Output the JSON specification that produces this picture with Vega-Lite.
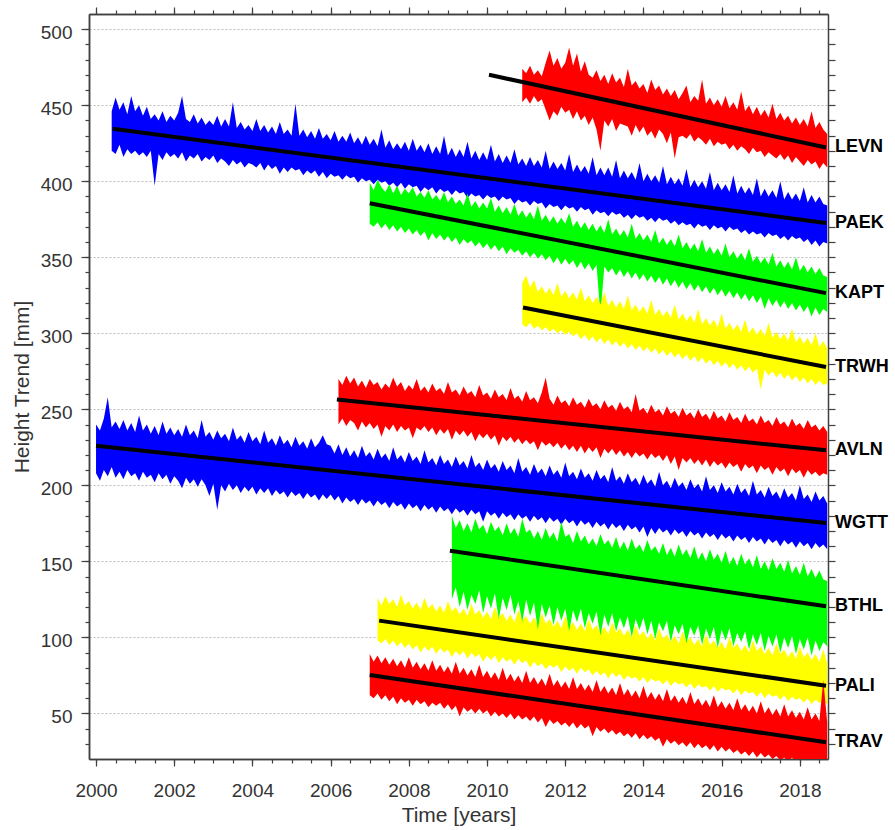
{
"$schema": "https://vega.github.io/schema/vega-lite/v6.json",
"width": 739, "height": 745,
"autosize": {"type": "none"},
"padding": {"left": 89, "top": 14, "right": 67, "bottom": 71},
"config": {"view": {"stroke": null}, "font": "Liberation Sans",
 "axis": {"domainColor": "#404040", "domainWidth": 1.5, "tickColor": "#404040", "tickWidth": 1.2, "labelFont": "Liberation Sans", "labelFontSize": 19, "labelColor": "#333333", "titleFont": "Liberation Sans", "titleFontSize": 21, "titleFontWeight": "normal", "titleColor": "#333333", "grid": false, "labelFlush": false, "labelOverlap": false}},
"resolve": {"axis": {"x": "independent", "y": "independent"}},
"datasets": {
"LEVN": [{"t":2010.9,"h":474,"l":452},{"t":2011.0,"h":471,"l":455},{"t":2011.1,"h":476,"l":451},{"t":2011.2,"h":470,"l":456},{"t":2011.3,"h":473,"l":452},{"t":2011.4,"h":469,"l":454},{"t":2011.5,"h":478,"l":447},{"t":2011.6,"h":486,"l":440},{"t":2011.7,"h":476,"l":446},{"t":2011.8,"h":481,"l":443},{"t":2011.9,"h":474,"l":449},{"t":2012.0,"h":478,"l":445},{"t":2012.1,"h":488,"l":447},{"t":2012.2,"h":476,"l":441},{"t":2012.3,"h":484,"l":446},{"t":2012.4,"h":472,"l":440},{"t":2012.5,"h":479,"l":443},{"t":2012.6,"h":470,"l":437},{"t":2012.7,"h":468,"l":442},{"t":2012.8,"h":473,"l":434},{"t":2012.9,"h":466,"l":420},{"t":2013.0,"h":470,"l":440},{"t":2013.1,"h":464,"l":436},{"t":2013.2,"h":471,"l":441},{"t":2013.3,"h":465,"l":433},{"t":2013.4,"h":468,"l":438},{"t":2013.5,"h":462,"l":437},{"t":2013.6,"h":474,"l":436},{"t":2013.7,"h":463,"l":430},{"t":2013.8,"h":466,"l":437},{"t":2013.9,"h":461,"l":432},{"t":2014.0,"h":464,"l":436},{"t":2014.1,"h":458,"l":430},{"t":2014.2,"h":467,"l":433},{"t":2014.3,"h":460,"l":428},{"t":2014.4,"h":463,"l":434},{"t":2014.5,"h":457,"l":431},{"t":2014.6,"h":461,"l":425},{"t":2014.7,"h":456,"l":432},{"t":2014.8,"h":460,"l":415},{"t":2014.9,"h":454,"l":429},{"t":2015.0,"h":458,"l":430},{"t":2015.1,"h":463,"l":428},{"t":2015.2,"h":452,"l":431},{"t":2015.3,"h":456,"l":426},{"t":2015.4,"h":453,"l":429},{"t":2015.5,"h":467,"l":427},{"t":2015.6,"h":451,"l":424},{"t":2015.7,"h":455,"l":428},{"t":2015.8,"h":450,"l":423},{"t":2015.9,"h":454,"l":426},{"t":2016.0,"h":449,"l":424},{"t":2016.1,"h":456,"l":425},{"t":2016.2,"h":448,"l":421},{"t":2016.3,"h":452,"l":424},{"t":2016.4,"h":447,"l":420},{"t":2016.5,"h":459,"l":423},{"t":2016.6,"h":446,"l":421},{"t":2016.7,"h":450,"l":418},{"t":2016.8,"h":444,"l":422},{"t":2016.9,"h":449,"l":419},{"t":2017.0,"h":443,"l":420},{"t":2017.1,"h":447,"l":416},{"t":2017.2,"h":442,"l":419},{"t":2017.3,"h":451,"l":417},{"t":2017.4,"h":441,"l":415},{"t":2017.5,"h":445,"l":418},{"t":2017.6,"h":440,"l":414},{"t":2017.7,"h":443,"l":417},{"t":2017.8,"h":438,"l":412},{"t":2017.9,"h":442,"l":416},{"t":2018.0,"h":437,"l":413},{"t":2018.1,"h":441,"l":410},{"t":2018.2,"h":436,"l":414},{"t":2018.3,"h":446,"l":411},{"t":2018.4,"h":435,"l":413},{"t":2018.5,"h":439,"l":408},{"t":2018.6,"h":434,"l":412},{"t":2018.7,"h":431,"l":409}],
"PAEK": [{"t":2000.4,"h":446,"l":420},{"t":2000.5,"h":455,"l":418},{"t":2000.6,"h":447,"l":424},{"t":2000.7,"h":452,"l":416},{"t":2000.8,"h":444,"l":421},{"t":2000.9,"h":456,"l":418},{"t":2001.0,"h":446,"l":420},{"t":2001.1,"h":450,"l":417},{"t":2001.2,"h":443,"l":419},{"t":2001.3,"h":449,"l":416},{"t":2001.4,"h":441,"l":420},{"t":2001.5,"h":444,"l":397},{"t":2001.6,"h":440,"l":418},{"t":2001.7,"h":446,"l":414},{"t":2001.8,"h":439,"l":419},{"t":2001.9,"h":443,"l":416},{"t":2002.0,"h":440,"l":418},{"t":2002.1,"h":445,"l":415},{"t":2002.2,"h":456,"l":419},{"t":2002.3,"h":441,"l":413},{"t":2002.4,"h":439,"l":417},{"t":2002.5,"h":444,"l":415},{"t":2002.6,"h":438,"l":418},{"t":2002.7,"h":442,"l":413},{"t":2002.8,"h":437,"l":416},{"t":2002.9,"h":440,"l":414},{"t":2003.0,"h":437,"l":417},{"t":2003.1,"h":443,"l":412},{"t":2003.2,"h":436,"l":415},{"t":2003.3,"h":441,"l":413},{"t":2003.4,"h":436,"l":410},{"t":2003.5,"h":452,"l":414},{"t":2003.6,"h":435,"l":411},{"t":2003.7,"h":439,"l":413},{"t":2003.8,"h":434,"l":409},{"t":2003.9,"h":437,"l":412},{"t":2004.0,"h":433,"l":411},{"t":2004.1,"h":441,"l":409},{"t":2004.2,"h":433,"l":412},{"t":2004.3,"h":437,"l":407},{"t":2004.4,"h":432,"l":411},{"t":2004.5,"h":436,"l":408},{"t":2004.6,"h":431,"l":410},{"t":2004.7,"h":439,"l":405},{"t":2004.8,"h":431,"l":409},{"t":2004.9,"h":434,"l":406},{"t":2005.0,"h":430,"l":409},{"t":2005.1,"h":451,"l":407},{"t":2005.2,"h":430,"l":408},{"t":2005.3,"h":434,"l":404},{"t":2005.4,"h":429,"l":407},{"t":2005.5,"h":433,"l":405},{"t":2005.6,"h":428,"l":407},{"t":2005.7,"h":435,"l":403},{"t":2005.8,"h":428,"l":406},{"t":2005.9,"h":431,"l":402},{"t":2006.0,"h":427,"l":405},{"t":2006.1,"h":433,"l":403},{"t":2006.2,"h":426,"l":404},{"t":2006.3,"h":430,"l":401},{"t":2006.4,"h":426,"l":404},{"t":2006.5,"h":432,"l":402},{"t":2006.6,"h":425,"l":403},{"t":2006.7,"h":429,"l":399},{"t":2006.8,"h":424,"l":402},{"t":2006.9,"h":430,"l":400},{"t":2007.0,"h":424,"l":401},{"t":2007.1,"h":428,"l":398},{"t":2007.2,"h":423,"l":401},{"t":2007.3,"h":434,"l":399},{"t":2007.4,"h":422,"l":400},{"t":2007.5,"h":427,"l":397},{"t":2007.6,"h":421,"l":399},{"t":2007.7,"h":425,"l":396},{"t":2007.8,"h":421,"l":399},{"t":2007.9,"h":426,"l":395},{"t":2008.0,"h":420,"l":398},{"t":2008.1,"h":428,"l":396},{"t":2008.2,"h":420,"l":397},{"t":2008.3,"h":424,"l":393},{"t":2008.4,"h":419,"l":396},{"t":2008.5,"h":425,"l":394},{"t":2008.6,"h":418,"l":396},{"t":2008.7,"h":423,"l":392},{"t":2008.8,"h":418,"l":395},{"t":2008.9,"h":430,"l":393},{"t":2009.0,"h":417,"l":394},{"t":2009.1,"h":422,"l":391},{"t":2009.2,"h":416,"l":394},{"t":2009.3,"h":421,"l":392},{"t":2009.4,"h":416,"l":393},{"t":2009.5,"h":426,"l":389},{"t":2009.6,"h":415,"l":392},{"t":2009.7,"h":420,"l":390},{"t":2009.8,"h":414,"l":391},{"t":2009.9,"h":419,"l":388},{"t":2010.0,"h":414,"l":391},{"t":2010.1,"h":424,"l":389},{"t":2010.2,"h":413,"l":390},{"t":2010.3,"h":418,"l":387},{"t":2010.4,"h":412,"l":390},{"t":2010.5,"h":417,"l":388},{"t":2010.6,"h":412,"l":389},{"t":2010.7,"h":421,"l":385},{"t":2010.8,"h":411,"l":388},{"t":2010.9,"h":415,"l":386},{"t":2011.0,"h":410,"l":387},{"t":2011.1,"h":416,"l":384},{"t":2011.2,"h":410,"l":387},{"t":2011.3,"h":414,"l":385},{"t":2011.4,"h":409,"l":386},{"t":2011.5,"h":420,"l":382},{"t":2011.6,"h":408,"l":385},{"t":2011.7,"h":413,"l":383},{"t":2011.8,"h":408,"l":384},{"t":2011.9,"h":412,"l":381},{"t":2012.0,"h":407,"l":384},{"t":2012.1,"h":418,"l":382},{"t":2012.2,"h":406,"l":383},{"t":2012.3,"h":411,"l":380},{"t":2012.4,"h":406,"l":383},{"t":2012.5,"h":410,"l":381},{"t":2012.6,"h":405,"l":382},{"t":2012.7,"h":416,"l":378},{"t":2012.8,"h":404,"l":381},{"t":2012.9,"h":409,"l":379},{"t":2013.0,"h":404,"l":380},{"t":2013.1,"h":409,"l":377},{"t":2013.2,"h":403,"l":380},{"t":2013.3,"h":414,"l":378},{"t":2013.4,"h":402,"l":379},{"t":2013.5,"h":407,"l":376},{"t":2013.6,"h":402,"l":378},{"t":2013.7,"h":406,"l":375},{"t":2013.8,"h":401,"l":378},{"t":2013.9,"h":412,"l":376},{"t":2014.0,"h":400,"l":377},{"t":2014.1,"h":405,"l":374},{"t":2014.2,"h":400,"l":376},{"t":2014.3,"h":404,"l":373},{"t":2014.4,"h":399,"l":376},{"t":2014.5,"h":410,"l":374},{"t":2014.6,"h":398,"l":375},{"t":2014.7,"h":403,"l":372},{"t":2014.8,"h":398,"l":374},{"t":2014.9,"h":402,"l":371},{"t":2015.0,"h":397,"l":373},{"t":2015.1,"h":408,"l":371},{"t":2015.2,"h":396,"l":372},{"t":2015.3,"h":401,"l":369},{"t":2015.4,"h":396,"l":372},{"t":2015.5,"h":400,"l":370},{"t":2015.6,"h":395,"l":371},{"t":2015.7,"h":406,"l":368},{"t":2015.8,"h":394,"l":371},{"t":2015.9,"h":399,"l":369},{"t":2016.0,"h":394,"l":370},{"t":2016.1,"h":398,"l":367},{"t":2016.2,"h":393,"l":370},{"t":2016.3,"h":404,"l":368},{"t":2016.4,"h":392,"l":369},{"t":2016.5,"h":397,"l":366},{"t":2016.6,"h":392,"l":368},{"t":2016.7,"h":396,"l":365},{"t":2016.8,"h":391,"l":367},{"t":2016.9,"h":402,"l":365},{"t":2017.0,"h":390,"l":366},{"t":2017.1,"h":395,"l":363},{"t":2017.2,"h":390,"l":366},{"t":2017.3,"h":394,"l":364},{"t":2017.4,"h":389,"l":365},{"t":2017.5,"h":400,"l":362},{"t":2017.6,"h":388,"l":364},{"t":2017.7,"h":393,"l":361},{"t":2017.8,"h":388,"l":364},{"t":2017.9,"h":392,"l":362},{"t":2018.0,"h":387,"l":363},{"t":2018.1,"h":396,"l":360},{"t":2018.2,"h":386,"l":362},{"t":2018.3,"h":391,"l":358},{"t":2018.4,"h":386,"l":361},{"t":2018.5,"h":390,"l":357},{"t":2018.6,"h":385,"l":360},{"t":2018.7,"h":384,"l":359}],
"KAPT": [{"t":2007.0,"h":399,"l":372},{"t":2007.1,"h":394,"l":370},{"t":2007.2,"h":401,"l":373},{"t":2007.3,"h":396,"l":369},{"t":2007.4,"h":393,"l":372},{"t":2007.5,"h":398,"l":368},{"t":2007.6,"h":392,"l":371},{"t":2007.7,"h":397,"l":367},{"t":2007.8,"h":391,"l":370},{"t":2007.9,"h":395,"l":366},{"t":2008.0,"h":392,"l":369},{"t":2008.1,"h":396,"l":365},{"t":2008.2,"h":390,"l":368},{"t":2008.3,"h":393,"l":364},{"t":2008.4,"h":389,"l":367},{"t":2008.5,"h":394,"l":361},{"t":2008.6,"h":388,"l":366},{"t":2008.7,"h":391,"l":362},{"t":2008.8,"h":387,"l":365},{"t":2008.9,"h":393,"l":361},{"t":2009.0,"h":386,"l":364},{"t":2009.1,"h":390,"l":360},{"t":2009.2,"h":385,"l":363},{"t":2009.3,"h":388,"l":358},{"t":2009.4,"h":384,"l":362},{"t":2009.5,"h":392,"l":359},{"t":2009.6,"h":383,"l":361},{"t":2009.7,"h":387,"l":357},{"t":2009.8,"h":382,"l":360},{"t":2009.9,"h":386,"l":356},{"t":2010.0,"h":382,"l":359},{"t":2010.1,"h":389,"l":355},{"t":2010.2,"h":380,"l":358},{"t":2010.3,"h":384,"l":354},{"t":2010.4,"h":379,"l":357},{"t":2010.5,"h":383,"l":352},{"t":2010.6,"h":378,"l":356},{"t":2010.7,"h":385,"l":353},{"t":2010.8,"h":377,"l":355},{"t":2010.9,"h":381,"l":351},{"t":2011.0,"h":376,"l":354},{"t":2011.1,"h":380,"l":350},{"t":2011.2,"h":375,"l":353},{"t":2011.3,"h":384,"l":349},{"t":2011.4,"h":374,"l":352},{"t":2011.5,"h":378,"l":348},{"t":2011.6,"h":373,"l":351},{"t":2011.7,"h":377,"l":346},{"t":2011.8,"h":372,"l":350},{"t":2011.9,"h":376,"l":345},{"t":2012.0,"h":372,"l":349},{"t":2012.1,"h":379,"l":345},{"t":2012.2,"h":370,"l":348},{"t":2012.3,"h":374,"l":343},{"t":2012.4,"h":369,"l":347},{"t":2012.5,"h":373,"l":342},{"t":2012.6,"h":368,"l":346},{"t":2012.7,"h":372,"l":341},{"t":2012.8,"h":367,"l":345},{"t":2012.9,"h":371,"l":312},{"t":2013.0,"h":366,"l":344},{"t":2013.1,"h":375,"l":340},{"t":2013.2,"h":365,"l":343},{"t":2013.3,"h":369,"l":338},{"t":2013.4,"h":364,"l":342},{"t":2013.5,"h":368,"l":337},{"t":2013.6,"h":363,"l":341},{"t":2013.7,"h":372,"l":336},{"t":2013.8,"h":362,"l":340},{"t":2013.9,"h":366,"l":335},{"t":2014.0,"h":361,"l":339},{"t":2014.1,"h":365,"l":334},{"t":2014.2,"h":360,"l":338},{"t":2014.3,"h":368,"l":333},{"t":2014.4,"h":359,"l":337},{"t":2014.5,"h":363,"l":332},{"t":2014.6,"h":358,"l":336},{"t":2014.7,"h":362,"l":331},{"t":2014.8,"h":357,"l":335},{"t":2014.9,"h":365,"l":330},{"t":2015.0,"h":356,"l":334},{"t":2015.1,"h":360,"l":329},{"t":2015.2,"h":355,"l":333},{"t":2015.3,"h":359,"l":328},{"t":2015.4,"h":354,"l":332},{"t":2015.5,"h":362,"l":327},{"t":2015.6,"h":353,"l":331},{"t":2015.7,"h":357,"l":326},{"t":2015.8,"h":352,"l":330},{"t":2015.9,"h":356,"l":325},{"t":2016.0,"h":351,"l":329},{"t":2016.1,"h":359,"l":324},{"t":2016.2,"h":350,"l":328},{"t":2016.3,"h":354,"l":323},{"t":2016.4,"h":349,"l":327},{"t":2016.5,"h":353,"l":322},{"t":2016.6,"h":348,"l":326},{"t":2016.7,"h":356,"l":321},{"t":2016.8,"h":347,"l":325},{"t":2016.9,"h":351,"l":320},{"t":2017.0,"h":346,"l":324},{"t":2017.1,"h":350,"l":316},{"t":2017.2,"h":345,"l":323},{"t":2017.3,"h":353,"l":318},{"t":2017.4,"h":344,"l":322},{"t":2017.5,"h":348,"l":317},{"t":2017.6,"h":343,"l":321},{"t":2017.7,"h":347,"l":316},{"t":2017.8,"h":342,"l":320},{"t":2017.9,"h":350,"l":315},{"t":2018.0,"h":341,"l":319},{"t":2018.1,"h":345,"l":314},{"t":2018.2,"h":340,"l":318},{"t":2018.3,"h":344,"l":311},{"t":2018.4,"h":339,"l":317},{"t":2018.5,"h":343,"l":312},{"t":2018.6,"h":338,"l":316},{"t":2018.7,"h":337,"l":314}],
"TRWH": [{"t":2010.9,"h":333,"l":306},{"t":2011.0,"h":338,"l":304},{"t":2011.1,"h":330,"l":307},{"t":2011.2,"h":335,"l":303},{"t":2011.3,"h":327,"l":305},{"t":2011.4,"h":331,"l":302},{"t":2011.5,"h":326,"l":304},{"t":2011.6,"h":330,"l":301},{"t":2011.7,"h":325,"l":303},{"t":2011.8,"h":333,"l":300},{"t":2011.9,"h":324,"l":302},{"t":2012.0,"h":328,"l":299},{"t":2012.1,"h":323,"l":301},{"t":2012.2,"h":327,"l":298},{"t":2012.3,"h":322,"l":300},{"t":2012.4,"h":330,"l":296},{"t":2012.5,"h":321,"l":299},{"t":2012.6,"h":325,"l":295},{"t":2012.7,"h":320,"l":298},{"t":2012.8,"h":324,"l":294},{"t":2012.9,"h":319,"l":297},{"t":2013.0,"h":327,"l":293},{"t":2013.1,"h":318,"l":296},{"t":2013.2,"h":322,"l":292},{"t":2013.3,"h":317,"l":295},{"t":2013.4,"h":321,"l":291},{"t":2013.5,"h":316,"l":294},{"t":2013.6,"h":325,"l":290},{"t":2013.7,"h":315,"l":293},{"t":2013.8,"h":319,"l":289},{"t":2013.9,"h":314,"l":292},{"t":2014.0,"h":318,"l":288},{"t":2014.1,"h":313,"l":291},{"t":2014.2,"h":322,"l":287},{"t":2014.3,"h":312,"l":290},{"t":2014.4,"h":316,"l":286},{"t":2014.5,"h":311,"l":289},{"t":2014.6,"h":315,"l":285},{"t":2014.7,"h":310,"l":288},{"t":2014.8,"h":319,"l":284},{"t":2014.9,"h":309,"l":287},{"t":2015.0,"h":313,"l":283},{"t":2015.1,"h":308,"l":286},{"t":2015.2,"h":312,"l":282},{"t":2015.3,"h":307,"l":285},{"t":2015.4,"h":316,"l":281},{"t":2015.5,"h":306,"l":284},{"t":2015.6,"h":310,"l":280},{"t":2015.7,"h":305,"l":283},{"t":2015.8,"h":309,"l":279},{"t":2015.9,"h":304,"l":282},{"t":2016.0,"h":313,"l":278},{"t":2016.1,"h":303,"l":281},{"t":2016.2,"h":307,"l":277},{"t":2016.3,"h":302,"l":280},{"t":2016.4,"h":306,"l":276},{"t":2016.5,"h":301,"l":279},{"t":2016.6,"h":309,"l":275},{"t":2016.7,"h":300,"l":278},{"t":2016.8,"h":304,"l":274},{"t":2016.9,"h":299,"l":277},{"t":2017.0,"h":303,"l":263},{"t":2017.1,"h":298,"l":276},{"t":2017.2,"h":307,"l":272},{"t":2017.3,"h":297,"l":275},{"t":2017.4,"h":301,"l":271},{"t":2017.5,"h":296,"l":274},{"t":2017.6,"h":300,"l":270},{"t":2017.7,"h":295,"l":273},{"t":2017.8,"h":303,"l":269},{"t":2017.9,"h":294,"l":272},{"t":2018.0,"h":298,"l":268},{"t":2018.1,"h":293,"l":271},{"t":2018.2,"h":297,"l":267},{"t":2018.3,"h":292,"l":270},{"t":2018.4,"h":300,"l":266},{"t":2018.5,"h":291,"l":269},{"t":2018.6,"h":295,"l":266},{"t":2018.7,"h":290,"l":267}],
"AVLN": [{"t":2006.2,"h":270,"l":240},{"t":2006.3,"h":266,"l":244},{"t":2006.4,"h":272,"l":239},{"t":2006.5,"h":267,"l":243},{"t":2006.6,"h":271,"l":241},{"t":2006.7,"h":265,"l":236},{"t":2006.8,"h":269,"l":242},{"t":2006.9,"h":264,"l":238},{"t":2007.0,"h":270,"l":241},{"t":2007.1,"h":266,"l":237},{"t":2007.2,"h":268,"l":240},{"t":2007.3,"h":263,"l":232},{"t":2007.4,"h":267,"l":239},{"t":2007.5,"h":264,"l":236},{"t":2007.6,"h":271,"l":240},{"t":2007.7,"h":265,"l":235},{"t":2007.8,"h":268,"l":239},{"t":2007.9,"h":262,"l":236},{"t":2008.0,"h":266,"l":238},{"t":2008.1,"h":263,"l":231},{"t":2008.2,"h":270,"l":238},{"t":2008.3,"h":262,"l":236},{"t":2008.4,"h":265,"l":239},{"t":2008.5,"h":261,"l":235},{"t":2008.6,"h":267,"l":238},{"t":2008.7,"h":262,"l":233},{"t":2008.8,"h":264,"l":237},{"t":2008.9,"h":260,"l":234},{"t":2009.0,"h":268,"l":237},{"t":2009.1,"h":261,"l":230},{"t":2009.2,"h":263,"l":236},{"t":2009.3,"h":259,"l":233},{"t":2009.4,"h":265,"l":236},{"t":2009.5,"h":260,"l":232},{"t":2009.6,"h":262,"l":235},{"t":2009.7,"h":258,"l":229},{"t":2009.8,"h":266,"l":234},{"t":2009.9,"h":259,"l":231},{"t":2010.0,"h":261,"l":234},{"t":2010.1,"h":257,"l":230},{"t":2010.2,"h":263,"l":233},{"t":2010.3,"h":258,"l":226},{"t":2010.4,"h":260,"l":232},{"t":2010.5,"h":256,"l":229},{"t":2010.6,"h":264,"l":232},{"t":2010.7,"h":257,"l":228},{"t":2010.8,"h":259,"l":231},{"t":2010.9,"h":255,"l":227},{"t":2011.0,"h":262,"l":230},{"t":2011.1,"h":256,"l":227},{"t":2011.2,"h":258,"l":229},{"t":2011.3,"h":254,"l":223},{"t":2011.4,"h":261,"l":229},{"t":2011.5,"h":271,"l":226},{"t":2011.6,"h":257,"l":228},{"t":2011.7,"h":253,"l":225},{"t":2011.8,"h":259,"l":228},{"t":2011.9,"h":254,"l":224},{"t":2012.0,"h":256,"l":227},{"t":2012.1,"h":252,"l":223},{"t":2012.2,"h":258,"l":226},{"t":2012.3,"h":253,"l":222},{"t":2012.4,"h":255,"l":226},{"t":2012.5,"h":251,"l":221},{"t":2012.6,"h":257,"l":225},{"t":2012.7,"h":252,"l":222},{"t":2012.8,"h":254,"l":225},{"t":2012.9,"h":250,"l":218},{"t":2013.0,"h":256,"l":224},{"t":2013.1,"h":251,"l":221},{"t":2013.2,"h":253,"l":224},{"t":2013.3,"h":249,"l":220},{"t":2013.4,"h":255,"l":223},{"t":2013.5,"h":250,"l":219},{"t":2013.6,"h":252,"l":222},{"t":2013.7,"h":248,"l":218},{"t":2013.8,"h":260,"l":222},{"t":2013.9,"h":249,"l":219},{"t":2014.0,"h":251,"l":221},{"t":2014.1,"h":247,"l":217},{"t":2014.2,"h":253,"l":221},{"t":2014.3,"h":248,"l":218},{"t":2014.4,"h":250,"l":220},{"t":2014.5,"h":246,"l":216},{"t":2014.6,"h":252,"l":220},{"t":2014.7,"h":247,"l":214},{"t":2014.8,"h":249,"l":219},{"t":2014.9,"h":245,"l":210},{"t":2015.0,"h":251,"l":218},{"t":2015.1,"h":246,"l":215},{"t":2015.2,"h":248,"l":218},{"t":2015.3,"h":244,"l":214},{"t":2015.4,"h":250,"l":217},{"t":2015.5,"h":245,"l":213},{"t":2015.6,"h":247,"l":217},{"t":2015.7,"h":243,"l":212},{"t":2015.8,"h":249,"l":216},{"t":2015.9,"h":244,"l":213},{"t":2016.0,"h":246,"l":215},{"t":2016.1,"h":242,"l":211},{"t":2016.2,"h":248,"l":215},{"t":2016.3,"h":243,"l":212},{"t":2016.4,"h":245,"l":214},{"t":2016.5,"h":241,"l":209},{"t":2016.6,"h":247,"l":214},{"t":2016.7,"h":242,"l":211},{"t":2016.8,"h":244,"l":213},{"t":2016.9,"h":240,"l":208},{"t":2017.0,"h":246,"l":213},{"t":2017.1,"h":241,"l":210},{"t":2017.2,"h":243,"l":212},{"t":2017.3,"h":239,"l":207},{"t":2017.4,"h":245,"l":212},{"t":2017.5,"h":240,"l":209},{"t":2017.6,"h":242,"l":211},{"t":2017.7,"h":238,"l":206},{"t":2017.8,"h":244,"l":211},{"t":2017.9,"h":239,"l":208},{"t":2018.0,"h":241,"l":210},{"t":2018.1,"h":237,"l":205},{"t":2018.2,"h":243,"l":210},{"t":2018.3,"h":238,"l":207},{"t":2018.4,"h":240,"l":209},{"t":2018.5,"h":236,"l":206},{"t":2018.6,"h":239,"l":208},{"t":2018.7,"h":235,"l":207}],
"WGTT": [{"t":2000.0,"h":240,"l":208},{"t":2000.1,"h":236,"l":203},{"t":2000.2,"h":244,"l":210},{"t":2000.3,"h":258,"l":206},{"t":2000.4,"h":238,"l":212},{"t":2000.5,"h":242,"l":205},{"t":2000.6,"h":237,"l":209},{"t":2000.7,"h":243,"l":204},{"t":2000.8,"h":236,"l":210},{"t":2000.9,"h":241,"l":206},{"t":2001.0,"h":235,"l":208},{"t":2001.1,"h":246,"l":203},{"t":2001.2,"h":236,"l":209},{"t":2001.3,"h":240,"l":205},{"t":2001.4,"h":234,"l":207},{"t":2001.5,"h":239,"l":202},{"t":2001.6,"h":233,"l":208},{"t":2001.7,"h":242,"l":204},{"t":2001.8,"h":234,"l":207},{"t":2001.9,"h":238,"l":201},{"t":2002.0,"h":233,"l":206},{"t":2002.1,"h":237,"l":203},{"t":2002.2,"h":232,"l":198},{"t":2002.3,"h":240,"l":205},{"t":2002.4,"h":233,"l":201},{"t":2002.5,"h":236,"l":204},{"t":2002.6,"h":231,"l":199},{"t":2002.7,"h":243,"l":204},{"t":2002.8,"h":232,"l":200},{"t":2002.9,"h":235,"l":193},{"t":2003.0,"h":230,"l":201},{"t":2003.1,"h":236,"l":184},{"t":2003.2,"h":231,"l":200},{"t":2003.3,"h":234,"l":196},{"t":2003.4,"h":229,"l":201},{"t":2003.5,"h":238,"l":197},{"t":2003.6,"h":230,"l":200},{"t":2003.7,"h":233,"l":195},{"t":2003.8,"h":228,"l":199},{"t":2003.9,"h":235,"l":196},{"t":2004.0,"h":229,"l":199},{"t":2004.1,"h":232,"l":194},{"t":2004.2,"h":227,"l":198},{"t":2004.3,"h":236,"l":195},{"t":2004.4,"h":228,"l":198},{"t":2004.5,"h":231,"l":193},{"t":2004.6,"h":226,"l":197},{"t":2004.7,"h":233,"l":194},{"t":2004.8,"h":227,"l":196},{"t":2004.9,"h":230,"l":192},{"t":2005.0,"h":225,"l":196},{"t":2005.1,"h":232,"l":193},{"t":2005.2,"h":226,"l":195},{"t":2005.3,"h":229,"l":191},{"t":2005.4,"h":224,"l":195},{"t":2005.5,"h":231,"l":192},{"t":2005.6,"h":225,"l":194},{"t":2005.7,"h":228,"l":190},{"t":2005.8,"h":233,"l":194},{"t":2005.9,"h":227,"l":191},{"t":2006.0,"h":226,"l":194},{"t":2006.1,"h":221,"l":190},{"t":2006.2,"h":227,"l":193},{"t":2006.3,"h":220,"l":188},{"t":2006.4,"h":225,"l":192},{"t":2006.5,"h":219,"l":189},{"t":2006.6,"h":223,"l":191},{"t":2006.7,"h":218,"l":187},{"t":2006.8,"h":226,"l":191},{"t":2006.9,"h":219,"l":188},{"t":2007.0,"h":222,"l":190},{"t":2007.1,"h":217,"l":186},{"t":2007.2,"h":224,"l":190},{"t":2007.3,"h":218,"l":187},{"t":2007.4,"h":221,"l":189},{"t":2007.5,"h":216,"l":185},{"t":2007.6,"h":225,"l":189},{"t":2007.7,"h":217,"l":186},{"t":2007.8,"h":220,"l":188},{"t":2007.9,"h":215,"l":184},{"t":2008.0,"h":222,"l":188},{"t":2008.1,"h":216,"l":185},{"t":2008.2,"h":219,"l":187},{"t":2008.3,"h":214,"l":183},{"t":2008.4,"h":223,"l":187},{"t":2008.5,"h":215,"l":184},{"t":2008.6,"h":218,"l":186},{"t":2008.7,"h":213,"l":182},{"t":2008.8,"h":220,"l":186},{"t":2008.9,"h":214,"l":183},{"t":2009.0,"h":217,"l":185},{"t":2009.1,"h":212,"l":181},{"t":2009.2,"h":219,"l":185},{"t":2009.3,"h":213,"l":182},{"t":2009.4,"h":216,"l":184},{"t":2009.5,"h":211,"l":180},{"t":2009.6,"h":220,"l":184},{"t":2009.7,"h":212,"l":181},{"t":2009.8,"h":215,"l":183},{"t":2009.9,"h":210,"l":176},{"t":2010.0,"h":217,"l":183},{"t":2010.1,"h":211,"l":180},{"t":2010.2,"h":214,"l":182},{"t":2010.3,"h":209,"l":178},{"t":2010.4,"h":216,"l":182},{"t":2010.5,"h":210,"l":179},{"t":2010.6,"h":213,"l":181},{"t":2010.7,"h":208,"l":177},{"t":2010.8,"h":218,"l":181},{"t":2010.9,"h":209,"l":178},{"t":2011.0,"h":212,"l":180},{"t":2011.1,"h":207,"l":176},{"t":2011.2,"h":214,"l":180},{"t":2011.3,"h":208,"l":177},{"t":2011.4,"h":211,"l":179},{"t":2011.5,"h":206,"l":175},{"t":2011.6,"h":213,"l":179},{"t":2011.7,"h":207,"l":176},{"t":2011.8,"h":210,"l":178},{"t":2011.9,"h":205,"l":174},{"t":2012.0,"h":215,"l":178},{"t":2012.1,"h":206,"l":175},{"t":2012.2,"h":209,"l":177},{"t":2012.3,"h":204,"l":173},{"t":2012.4,"h":211,"l":177},{"t":2012.5,"h":205,"l":174},{"t":2012.6,"h":208,"l":176},{"t":2012.7,"h":203,"l":172},{"t":2012.8,"h":210,"l":176},{"t":2012.9,"h":204,"l":173},{"t":2013.0,"h":207,"l":175},{"t":2013.1,"h":202,"l":171},{"t":2013.2,"h":212,"l":175},{"t":2013.3,"h":203,"l":172},{"t":2013.4,"h":206,"l":174},{"t":2013.5,"h":201,"l":170},{"t":2013.6,"h":208,"l":174},{"t":2013.7,"h":202,"l":171},{"t":2013.8,"h":205,"l":173},{"t":2013.9,"h":200,"l":169},{"t":2014.0,"h":207,"l":173},{"t":2014.1,"h":201,"l":166},{"t":2014.2,"h":204,"l":172},{"t":2014.3,"h":199,"l":168},{"t":2014.4,"h":209,"l":172},{"t":2014.5,"h":200,"l":169},{"t":2014.6,"h":203,"l":171},{"t":2014.7,"h":198,"l":167},{"t":2014.8,"h":205,"l":171},{"t":2014.9,"h":199,"l":168},{"t":2015.0,"h":202,"l":170},{"t":2015.1,"h":197,"l":166},{"t":2015.2,"h":204,"l":170},{"t":2015.3,"h":198,"l":167},{"t":2015.4,"h":201,"l":169},{"t":2015.5,"h":196,"l":165},{"t":2015.6,"h":206,"l":169},{"t":2015.7,"h":197,"l":166},{"t":2015.8,"h":200,"l":168},{"t":2015.9,"h":195,"l":164},{"t":2016.0,"h":202,"l":168},{"t":2016.1,"h":196,"l":165},{"t":2016.2,"h":199,"l":167},{"t":2016.3,"h":194,"l":163},{"t":2016.4,"h":201,"l":167},{"t":2016.5,"h":195,"l":164},{"t":2016.6,"h":198,"l":166},{"t":2016.7,"h":193,"l":162},{"t":2016.8,"h":203,"l":166},{"t":2016.9,"h":194,"l":163},{"t":2017.0,"h":197,"l":165},{"t":2017.1,"h":192,"l":161},{"t":2017.2,"h":199,"l":165},{"t":2017.3,"h":193,"l":162},{"t":2017.4,"h":196,"l":164},{"t":2017.5,"h":191,"l":160},{"t":2017.6,"h":198,"l":164},{"t":2017.7,"h":192,"l":161},{"t":2017.8,"h":195,"l":163},{"t":2017.9,"h":190,"l":159},{"t":2018.0,"h":200,"l":163},{"t":2018.1,"h":191,"l":160},{"t":2018.2,"h":194,"l":162},{"t":2018.3,"h":189,"l":158},{"t":2018.4,"h":196,"l":162},{"t":2018.5,"h":190,"l":159},{"t":2018.6,"h":193,"l":161},{"t":2018.7,"h":188,"l":158}],
"BTHL": [{"t":2009.1,"h":180,"l":125},{"t":2009.2,"h":172,"l":133},{"t":2009.3,"h":177,"l":120},{"t":2009.4,"h":170,"l":130},{"t":2009.5,"h":175,"l":118},{"t":2009.6,"h":169,"l":128},{"t":2009.7,"h":178,"l":122},{"t":2009.8,"h":171,"l":131},{"t":2009.9,"h":174,"l":116},{"t":2010.0,"h":168,"l":127},{"t":2010.1,"h":176,"l":119},{"t":2010.2,"h":170,"l":129},{"t":2010.3,"h":173,"l":112},{"t":2010.4,"h":167,"l":126},{"t":2010.5,"h":175,"l":118},{"t":2010.6,"h":168,"l":128},{"t":2010.7,"h":172,"l":115},{"t":2010.8,"h":166,"l":124},{"t":2010.9,"h":178,"l":110},{"t":2011.0,"h":169,"l":125},{"t":2011.1,"h":171,"l":114},{"t":2011.2,"h":165,"l":123},{"t":2011.3,"h":170,"l":105},{"t":2011.4,"h":164,"l":122},{"t":2011.5,"h":172,"l":113},{"t":2011.6,"h":165,"l":121},{"t":2011.7,"h":169,"l":108},{"t":2011.8,"h":163,"l":120},{"t":2011.9,"h":176,"l":111},{"t":2012.0,"h":166,"l":119},{"t":2012.1,"h":168,"l":104},{"t":2012.2,"h":162,"l":118},{"t":2012.3,"h":170,"l":110},{"t":2012.4,"h":163,"l":119},{"t":2012.5,"h":167,"l":106},{"t":2012.6,"h":161,"l":116},{"t":2012.7,"h":165,"l":109},{"t":2012.8,"h":160,"l":117},{"t":2012.9,"h":168,"l":101},{"t":2013.0,"h":161,"l":115},{"t":2013.1,"h":164,"l":107},{"t":2013.2,"h":159,"l":116},{"t":2013.3,"h":166,"l":104},{"t":2013.4,"h":158,"l":113},{"t":2013.5,"h":163,"l":106},{"t":2013.6,"h":157,"l":114},{"t":2013.7,"h":165,"l":100},{"t":2013.8,"h":158,"l":112},{"t":2013.9,"h":161,"l":105},{"t":2014.0,"h":156,"l":113},{"t":2014.1,"h":164,"l":102},{"t":2014.2,"h":157,"l":111},{"t":2014.3,"h":160,"l":99},{"t":2014.4,"h":155,"l":110},{"t":2014.5,"h":162,"l":104},{"t":2014.6,"h":154,"l":111},{"t":2014.7,"h":159,"l":97},{"t":2014.8,"h":153,"l":108},{"t":2014.9,"h":161,"l":102},{"t":2015.0,"h":154,"l":109},{"t":2015.1,"h":158,"l":96},{"t":2015.2,"h":152,"l":107},{"t":2015.3,"h":160,"l":101},{"t":2015.4,"h":151,"l":108},{"t":2015.5,"h":156,"l":95},{"t":2015.6,"h":150,"l":106},{"t":2015.7,"h":158,"l":99},{"t":2015.8,"h":151,"l":107},{"t":2015.9,"h":155,"l":93},{"t":2016.0,"h":149,"l":105},{"t":2016.1,"h":157,"l":98},{"t":2016.2,"h":148,"l":106},{"t":2016.3,"h":153,"l":94},{"t":2016.4,"h":147,"l":103},{"t":2016.5,"h":155,"l":97},{"t":2016.6,"h":148,"l":104},{"t":2016.7,"h":152,"l":92},{"t":2016.8,"h":146,"l":102},{"t":2016.9,"h":154,"l":95},{"t":2017.0,"h":145,"l":103},{"t":2017.1,"h":150,"l":91},{"t":2017.2,"h":144,"l":101},{"t":2017.3,"h":152,"l":94},{"t":2017.4,"h":145,"l":102},{"t":2017.5,"h":149,"l":90},{"t":2017.6,"h":143,"l":100},{"t":2017.7,"h":151,"l":93},{"t":2017.8,"h":142,"l":101},{"t":2017.9,"h":147,"l":89},{"t":2018.0,"h":141,"l":99},{"t":2018.1,"h":149,"l":92},{"t":2018.2,"h":140,"l":100},{"t":2018.3,"h":145,"l":88},{"t":2018.4,"h":139,"l":98},{"t":2018.5,"h":144,"l":91},{"t":2018.6,"h":138,"l":97},{"t":2018.7,"h":137,"l":94}],
"PALI": [{"t":2007.2,"h":126,"l":98},{"t":2007.3,"h":121,"l":96},{"t":2007.4,"h":127,"l":99},{"t":2007.5,"h":122,"l":95},{"t":2007.6,"h":125,"l":98},{"t":2007.7,"h":120,"l":94},{"t":2007.8,"h":128,"l":97},{"t":2007.9,"h":121,"l":93},{"t":2008.0,"h":124,"l":96},{"t":2008.1,"h":119,"l":92},{"t":2008.2,"h":123,"l":95},{"t":2008.3,"h":118,"l":90},{"t":2008.4,"h":126,"l":94},{"t":2008.5,"h":119,"l":91},{"t":2008.6,"h":122,"l":94},{"t":2008.7,"h":117,"l":89},{"t":2008.8,"h":121,"l":93},{"t":2008.9,"h":116,"l":90},{"t":2009.0,"h":124,"l":92},{"t":2009.1,"h":117,"l":87},{"t":2009.2,"h":120,"l":91},{"t":2009.3,"h":115,"l":88},{"t":2009.4,"h":119,"l":91},{"t":2009.5,"h":114,"l":86},{"t":2009.6,"h":122,"l":90},{"t":2009.7,"h":115,"l":87},{"t":2009.8,"h":118,"l":89},{"t":2009.9,"h":113,"l":84},{"t":2010.0,"h":117,"l":88},{"t":2010.1,"h":112,"l":85},{"t":2010.2,"h":120,"l":88},{"t":2010.3,"h":113,"l":83},{"t":2010.4,"h":116,"l":87},{"t":2010.5,"h":111,"l":84},{"t":2010.6,"h":115,"l":86},{"t":2010.7,"h":110,"l":82},{"t":2010.8,"h":118,"l":86},{"t":2010.9,"h":111,"l":83},{"t":2011.0,"h":114,"l":85},{"t":2011.1,"h":109,"l":80},{"t":2011.2,"h":113,"l":84},{"t":2011.3,"h":108,"l":81},{"t":2011.4,"h":116,"l":83},{"t":2011.5,"h":109,"l":79},{"t":2011.6,"h":112,"l":82},{"t":2011.7,"h":107,"l":80},{"t":2011.8,"h":111,"l":82},{"t":2011.9,"h":106,"l":77},{"t":2012.0,"h":114,"l":81},{"t":2012.1,"h":107,"l":78},{"t":2012.2,"h":110,"l":80},{"t":2012.3,"h":105,"l":76},{"t":2012.4,"h":109,"l":80},{"t":2012.5,"h":104,"l":77},{"t":2012.6,"h":112,"l":79},{"t":2012.7,"h":105,"l":75},{"t":2012.8,"h":108,"l":78},{"t":2012.9,"h":103,"l":75},{"t":2013.0,"h":107,"l":77},{"t":2013.1,"h":102,"l":73},{"t":2013.2,"h":110,"l":77},{"t":2013.3,"h":103,"l":74},{"t":2013.4,"h":106,"l":76},{"t":2013.5,"h":101,"l":72},{"t":2013.6,"h":105,"l":75},{"t":2013.7,"h":100,"l":73},{"t":2013.8,"h":108,"l":74},{"t":2013.9,"h":101,"l":71},{"t":2014.0,"h":104,"l":74},{"t":2014.1,"h":99,"l":70},{"t":2014.2,"h":103,"l":73},{"t":2014.3,"h":98,"l":71},{"t":2014.4,"h":106,"l":72},{"t":2014.5,"h":99,"l":69},{"t":2014.6,"h":102,"l":72},{"t":2014.7,"h":97,"l":68},{"t":2014.8,"h":101,"l":71},{"t":2014.9,"h":96,"l":69},{"t":2015.0,"h":104,"l":70},{"t":2015.1,"h":97,"l":67},{"t":2015.2,"h":100,"l":70},{"t":2015.3,"h":95,"l":66},{"t":2015.4,"h":99,"l":69},{"t":2015.5,"h":94,"l":67},{"t":2015.6,"h":102,"l":68},{"t":2015.7,"h":95,"l":65},{"t":2015.8,"h":98,"l":68},{"t":2015.9,"h":93,"l":64},{"t":2016.0,"h":97,"l":67},{"t":2016.1,"h":92,"l":65},{"t":2016.2,"h":100,"l":66},{"t":2016.3,"h":93,"l":63},{"t":2016.4,"h":96,"l":66},{"t":2016.5,"h":91,"l":62},{"t":2016.6,"h":95,"l":65},{"t":2016.7,"h":90,"l":63},{"t":2016.8,"h":98,"l":64},{"t":2016.9,"h":91,"l":61},{"t":2017.0,"h":94,"l":64},{"t":2017.1,"h":89,"l":60},{"t":2017.2,"h":93,"l":63},{"t":2017.3,"h":88,"l":61},{"t":2017.4,"h":96,"l":62},{"t":2017.5,"h":89,"l":59},{"t":2017.6,"h":92,"l":62},{"t":2017.7,"h":87,"l":58},{"t":2017.8,"h":91,"l":61},{"t":2017.9,"h":86,"l":59},{"t":2018.0,"h":94,"l":60},{"t":2018.1,"h":87,"l":57},{"t":2018.2,"h":90,"l":60},{"t":2018.3,"h":85,"l":56},{"t":2018.4,"h":89,"l":59},{"t":2018.5,"h":84,"l":57},{"t":2018.6,"h":92,"l":58},{"t":2018.7,"h":83,"l":56}],
"TRAV": [{"t":2007.0,"h":89,"l":62},{"t":2007.1,"h":84,"l":60},{"t":2007.2,"h":88,"l":63},{"t":2007.3,"h":83,"l":59},{"t":2007.4,"h":87,"l":62},{"t":2007.5,"h":82,"l":58},{"t":2007.6,"h":86,"l":61},{"t":2007.7,"h":81,"l":56},{"t":2007.8,"h":85,"l":60},{"t":2007.9,"h":80,"l":57},{"t":2008.0,"h":87,"l":59},{"t":2008.1,"h":80,"l":55},{"t":2008.2,"h":84,"l":59},{"t":2008.3,"h":79,"l":56},{"t":2008.4,"h":83,"l":58},{"t":2008.5,"h":78,"l":54},{"t":2008.6,"h":85,"l":57},{"t":2008.7,"h":78,"l":55},{"t":2008.8,"h":82,"l":57},{"t":2008.9,"h":77,"l":53},{"t":2009.0,"h":81,"l":56},{"t":2009.1,"h":76,"l":52},{"t":2009.2,"h":84,"l":55},{"t":2009.3,"h":76,"l":48},{"t":2009.4,"h":80,"l":54},{"t":2009.5,"h":75,"l":51},{"t":2009.6,"h":79,"l":53},{"t":2009.7,"h":74,"l":50},{"t":2009.8,"h":82,"l":53},{"t":2009.9,"h":74,"l":50},{"t":2010.0,"h":78,"l":52},{"t":2010.1,"h":73,"l":48},{"t":2010.2,"h":77,"l":51},{"t":2010.3,"h":72,"l":48},{"t":2010.4,"h":80,"l":50},{"t":2010.5,"h":72,"l":47},{"t":2010.6,"h":76,"l":50},{"t":2010.7,"h":71,"l":46},{"t":2010.8,"h":75,"l":49},{"t":2010.9,"h":70,"l":46},{"t":2011.0,"h":78,"l":48},{"t":2011.1,"h":70,"l":45},{"t":2011.2,"h":74,"l":48},{"t":2011.3,"h":69,"l":44},{"t":2011.4,"h":73,"l":47},{"t":2011.5,"h":68,"l":41},{"t":2011.6,"h":76,"l":46},{"t":2011.7,"h":68,"l":43},{"t":2011.8,"h":72,"l":45},{"t":2011.9,"h":67,"l":42},{"t":2012.0,"h":71,"l":44},{"t":2012.1,"h":66,"l":41},{"t":2012.2,"h":74,"l":44},{"t":2012.3,"h":66,"l":40},{"t":2012.4,"h":70,"l":43},{"t":2012.5,"h":65,"l":40},{"t":2012.6,"h":69,"l":42},{"t":2012.7,"h":64,"l":35},{"t":2012.8,"h":72,"l":41},{"t":2012.9,"h":64,"l":38},{"t":2013.0,"h":68,"l":40},{"t":2013.1,"h":63,"l":37},{"t":2013.2,"h":67,"l":39},{"t":2013.3,"h":62,"l":36},{"t":2013.4,"h":70,"l":38},{"t":2013.5,"h":62,"l":35},{"t":2013.6,"h":66,"l":37},{"t":2013.7,"h":61,"l":34},{"t":2013.8,"h":65,"l":37},{"t":2013.9,"h":60,"l":33},{"t":2014.0,"h":68,"l":36},{"t":2014.1,"h":60,"l":33},{"t":2014.2,"h":64,"l":35},{"t":2014.3,"h":59,"l":32},{"t":2014.4,"h":63,"l":34},{"t":2014.5,"h":58,"l":28},{"t":2014.6,"h":66,"l":33},{"t":2014.7,"h":58,"l":30},{"t":2014.8,"h":62,"l":32},{"t":2014.9,"h":57,"l":29},{"t":2015.0,"h":61,"l":31},{"t":2015.1,"h":56,"l":28},{"t":2015.2,"h":64,"l":31},{"t":2015.3,"h":56,"l":27},{"t":2015.4,"h":60,"l":30},{"t":2015.5,"h":55,"l":27},{"t":2015.6,"h":59,"l":29},{"t":2015.7,"h":54,"l":26},{"t":2015.8,"h":62,"l":29},{"t":2015.9,"h":54,"l":25},{"t":2016.0,"h":58,"l":28},{"t":2016.1,"h":53,"l":25},{"t":2016.2,"h":57,"l":27},{"t":2016.3,"h":52,"l":24},{"t":2016.4,"h":60,"l":26},{"t":2016.5,"h":52,"l":23},{"t":2016.6,"h":56,"l":25},{"t":2016.7,"h":51,"l":22},{"t":2016.8,"h":55,"l":25},{"t":2016.9,"h":50,"l":21},{"t":2017.0,"h":58,"l":24},{"t":2017.1,"h":50,"l":21},{"t":2017.2,"h":54,"l":23},{"t":2017.3,"h":49,"l":20},{"t":2017.4,"h":53,"l":22},{"t":2017.5,"h":48,"l":19},{"t":2017.6,"h":56,"l":21},{"t":2017.7,"h":48,"l":18},{"t":2017.8,"h":52,"l":21},{"t":2017.9,"h":47,"l":17},{"t":2018.0,"h":51,"l":20},{"t":2018.1,"h":46,"l":17},{"t":2018.2,"h":54,"l":19},{"t":2018.3,"h":46,"l":16},{"t":2018.4,"h":50,"l":18},{"t":2018.5,"h":45,"l":15},{"t":2018.6,"h":72,"l":17},{"t":2018.7,"h":44,"l":14}],
"trend": [{"s":"LEVN","t":2010.05,"v":470},{"s":"LEVN","t":2018.67,"v":422.2},{"s":"PAEK","t":2000.43,"v":434.5},{"s":"PAEK","t":2018.67,"v":372.5},{"s":"KAPT","t":2007.0,"v":385.5},{"s":"KAPT","t":2018.67,"v":326.4},{"s":"TRWH","t":2010.92,"v":317},{"s":"TRWH","t":2018.67,"v":277.8},{"s":"AVLN","t":2006.16,"v":256.5},{"s":"AVLN","t":2018.67,"v":223},{"s":"WGTT","t":2000.0,"v":226},{"s":"WGTT","t":2018.67,"v":175.2},{"s":"BTHL","t":2009.05,"v":157},{"s":"BTHL","t":2018.67,"v":120.4},{"s":"PALI","t":2007.24,"v":111},{"s":"PALI","t":2018.67,"v":68.2},{"s":"TRAV","t":2007.0,"v":75.3},{"s":"TRAV","t":2018.67,"v":31}]
},
"layer": [
{"data": {"name": "LEVN"}, "mark": {"type": "area", "color": "#ff0000", "clip": true},
 "encoding": {
  "x": {"field": "t", "type": "quantitative", "scale": {"domain": [1999.82, 2018.72], "nice": false, "zero": false},
   "axis": {"orient": "bottom", "values": [2000,2002,2004,2006,2008,2010,2012,2014,2016,2018], "format": "d", "tickSize": 7, "labelPadding": 15, "title": "Time [years]", "titlePadding": 4}},
  "y": {"field": "l", "type": "quantitative", "scale": {"domain": [20, 510], "nice": false, "zero": false},
   "axis": {"orient": "left", "values": [50,100,150,200,250,300,350,400,450,500], "tickSize": 8, "labelPadding": 9, "labelOffset": 3, "title": "Height Trend [mm]", "titlePadding": 8, "grid": true, "gridDash": [2,2], "gridColor": "#bdbdbd", "gridWidth": 1.2}},
  "y2": {"field": "h"}}},
{"data": {"name": "PAEK"}, "mark": {"type": "area", "color": "#0000ff", "clip": true},
 "encoding": {
  "x": {"field": "t", "type": "quantitative", "scale": {"domain": [1999.82, 2018.72], "nice": false, "zero": false},
   "axis": {"orient": "bottom", "values": [2000,2000.5,2001,2001.5,2002,2002.5,2003,2003.5,2004,2004.5,2005,2005.5,2006,2006.5,2007,2007.5,2008,2008.5,2009,2009.5,2010,2010.5,2011,2011.5,2012,2012.5,2013,2013.5,2014,2014.5,2015,2015.5,2016,2016.5,2017,2017.5,2018,2018.5], "tickSize": 4, "labels": false, "title": null}},
  "y": {"field": "l", "type": "quantitative", "scale": {"domain": [20, 510], "nice": false, "zero": false},
   "axis": {"orient": "left", "values": [30,40,50,60,70,80,90,100,110,120,130,140,150,160,170,180,190,200,210,220,230,240,250,260,270,280,290,300,310,320,330,340,350,360,370,380,390,400,410,420,430,440,450,460,470,480,490,500], "tickSize": 4, "labels": false, "title": null}},
  "y2": {"field": "h"}}},
{"data": {"name": "KAPT"}, "mark": {"type": "area", "color": "#00ff00", "clip": true},
 "encoding": {
  "x": {"field": "t", "type": "quantitative", "scale": {"domain": [1999.82, 2018.72], "nice": false, "zero": false},
   "axis": {"orient": "top", "values": [2000,2002,2004,2006,2008,2010,2012,2014,2016,2018], "tickSize": 7, "labels": false, "title": null}},
  "y": {"field": "l", "type": "quantitative", "scale": {"domain": [20, 510], "nice": false, "zero": false},
   "axis": {"orient": "right", "values": [30,40,50,60,70,80,90,100,110,120,130,140,150,160,170,180,190,200,210,220,230,240,250,260,270,280,290,300,310,320,330,340,350,360,370,380,390,400,410,420,430,440,450,460,470,480,490,500], "tickSize": 7, "labels": false, "title": null}},
  "y2": {"field": "h"}}},
{"data": {"name": "TRWH"}, "mark": {"type": "area", "color": "#ffff00", "clip": true},
 "encoding": {
  "x": {"field": "t", "type": "quantitative", "scale": {"domain": [1999.82, 2018.72], "nice": false, "zero": false},
   "axis": {"orient": "top", "values": [2000,2000.5,2001,2001.5,2002,2002.5,2003,2003.5,2004,2004.5,2005,2005.5,2006,2006.5,2007,2007.5,2008,2008.5,2009,2009.5,2010,2010.5,2011,2011.5,2012,2012.5,2013,2013.5,2014,2014.5,2015,2015.5,2016,2016.5,2017,2017.5,2018,2018.5], "tickSize": 4, "labels": false, "title": null}},
  "y": {"field": "l", "type": "quantitative", "scale": {"domain": [20, 510], "nice": false, "zero": false}, "axis": null},
  "y2": {"field": "h"}}},
{"data": {"name": "AVLN"}, "mark": {"type": "area", "color": "#ff0000", "clip": true},
 "encoding": {
  "x": {"field": "t", "type": "quantitative", "scale": {"domain": [1999.82, 2018.72], "nice": false, "zero": false}, "axis": null},
  "y": {"field": "l", "type": "quantitative", "scale": {"domain": [20, 510], "nice": false, "zero": false}, "axis": null},
  "y2": {"field": "h"}}},
{"data": {"name": "WGTT"}, "mark": {"type": "area", "color": "#0000ff", "clip": true},
 "encoding": {
  "x": {"field": "t", "type": "quantitative", "scale": {"domain": [1999.82, 2018.72], "nice": false, "zero": false}, "axis": null},
  "y": {"field": "l", "type": "quantitative", "scale": {"domain": [20, 510], "nice": false, "zero": false}, "axis": null},
  "y2": {"field": "h"}}},
{"data": {"name": "PALI"}, "mark": {"type": "area", "color": "#ffff00", "clip": true},
 "encoding": {
  "x": {"field": "t", "type": "quantitative", "scale": {"domain": [1999.82, 2018.72], "nice": false, "zero": false}, "axis": null},
  "y": {"field": "l", "type": "quantitative", "scale": {"domain": [20, 510], "nice": false, "zero": false}, "axis": null},
  "y2": {"field": "h"}}},
{"data": {"name": "BTHL"}, "mark": {"type": "area", "color": "#00ff00", "clip": true},
 "encoding": {
  "x": {"field": "t", "type": "quantitative", "scale": {"domain": [1999.82, 2018.72], "nice": false, "zero": false}, "axis": null},
  "y": {"field": "l", "type": "quantitative", "scale": {"domain": [20, 510], "nice": false, "zero": false}, "axis": null},
  "y2": {"field": "h"}}},
{"data": {"name": "TRAV"}, "mark": {"type": "area", "color": "#ff0000", "clip": true},
 "encoding": {
  "x": {"field": "t", "type": "quantitative", "scale": {"domain": [1999.82, 2018.72], "nice": false, "zero": false}, "axis": null},
  "y": {"field": "l", "type": "quantitative", "scale": {"domain": [20, 510], "nice": false, "zero": false}, "axis": null},
  "y2": {"field": "h"}}},
{"data": {"name": "trend"}, "mark": {"type": "line", "color": "#000000", "strokeWidth": 4, "clip": true},
 "encoding": {
  "x": {"field": "t", "type": "quantitative", "scale": {"domain": [1999.82, 2018.72], "nice": false, "zero": false}, "axis": null},
  "y": {"field": "v", "type": "quantitative", "scale": {"domain": [20, 510], "nice": false, "zero": false}, "axis": null},
  "detail": {"field": "s", "type": "nominal"}}},
{"data": {"name": "trend"}, "transform": [{"filter": "datum.t > 2018"}],
 "mark": {"type": "text", "align": "left", "baseline": "middle", "dx": 9, "font": "Liberation Sans", "fontSize": 18, "fontWeight": "bold", "color": "#000000"},
 "encoding": {
  "x": {"field": "t", "type": "quantitative", "scale": {"domain": [1999.82, 2018.72], "nice": false, "zero": false}, "axis": null},
  "y": {"field": "v", "type": "quantitative", "scale": {"domain": [20, 510], "nice": false, "zero": false}, "axis": null},
  "text": {"field": "s"}}}
]
}
